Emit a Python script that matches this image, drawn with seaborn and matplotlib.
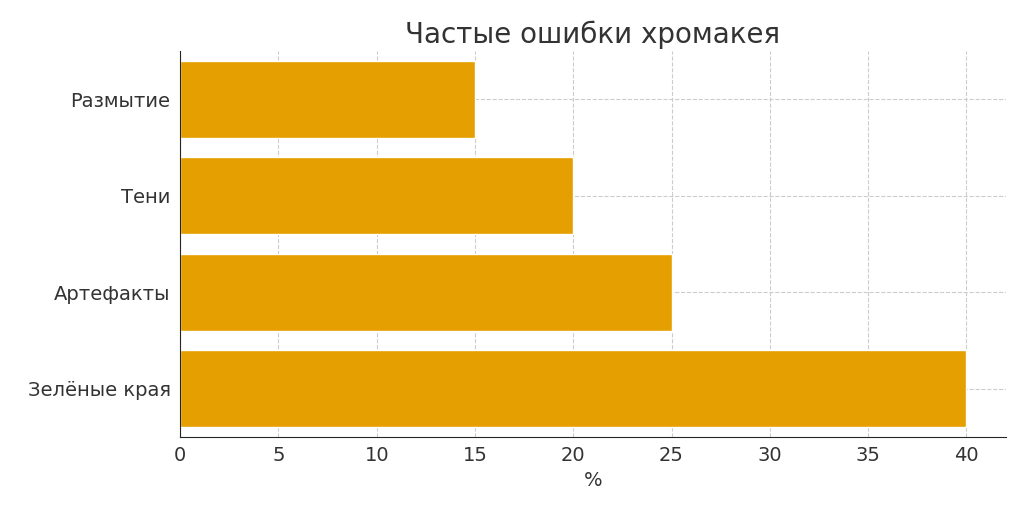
import matplotlib
matplotlib.use("Agg")
import matplotlib.pyplot as plt
import seaborn as sns
import pandas as pd

# Data
categories = ["Размытие", "Тени", "Артефакты", "Зелёные края"]
values = [15, 20, 25, 40]

df = pd.DataFrame({"category": categories, "value": values})

sns.set_style("white")
plt.rcParams['font.family'] = ['DejaVu Sans']

fig, ax = plt.subplots(figsize=(10.24, 5.12), dpi=100)
sns.barplot(data=df, x="value", y="category", color="#E69F00", saturation=1,
            width=0.8, ax=ax, zorder=2)

ax.set_xlim(0, 42)
ax.set_xticks(range(0, 45, 5))
ax.grid(True, linestyle="--", color="#cccccc", linewidth=0.8, zorder=0)
ax.set_axisbelow(True)
sns.despine(ax=ax)
ax.set_title("Частые ошибки хромакея", fontsize=20, color="#333333")
ax.set_xlabel("%", fontsize=14, color="#333333")
ax.set_ylabel("")
ax.tick_params(axis="both", labelsize=14, colors="#333333")

plt.subplots_adjust(left=0.176, right=0.982, top=0.9, bottom=0.147)
plt.savefig("out.png")
